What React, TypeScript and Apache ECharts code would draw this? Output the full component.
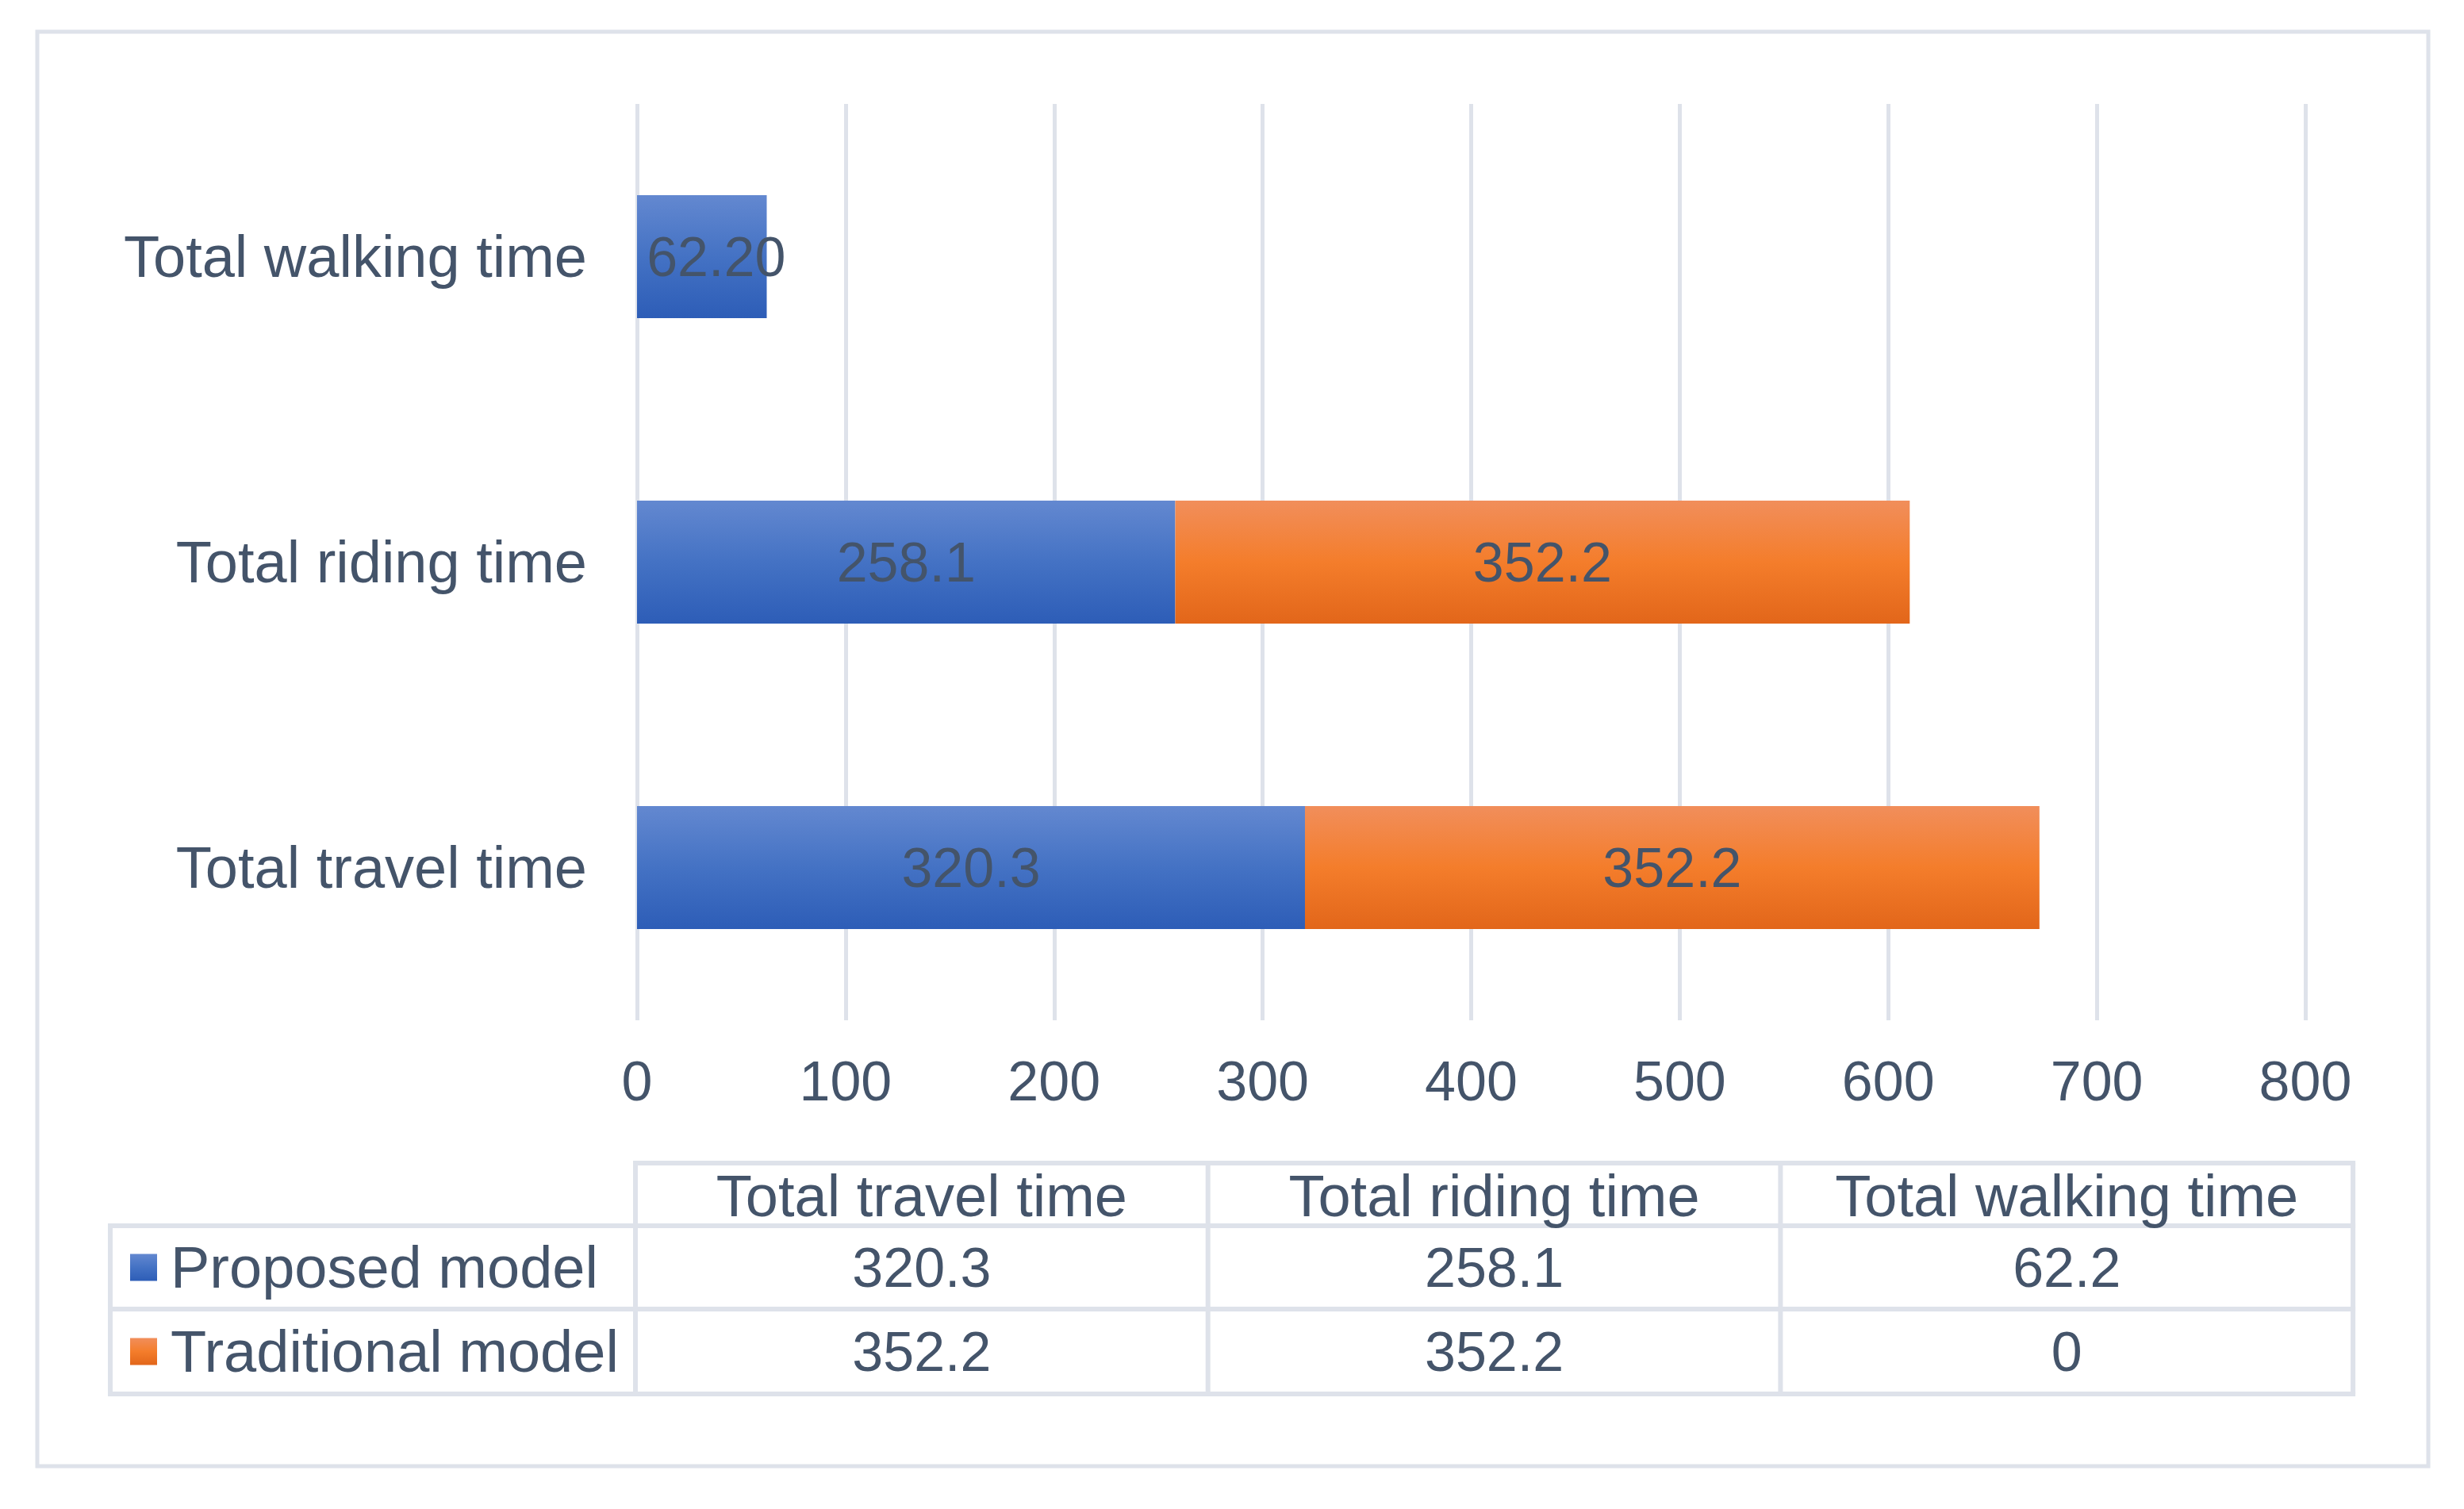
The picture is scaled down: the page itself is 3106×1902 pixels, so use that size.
import React, { useEffect, useRef } from "react";
import * as echarts from "echarts";

const categories = ["Total travel time", "Total riding time", "Total walking time"];
const seriesNames = ["Proposed model", "Traditional model"];
const proposedValues = [320.3, 258.1, 62.2];
const traditionalValues = [352.2, 352.2, 0];
const proposedLabels = ["320.3", "258.1", "62.20"];
const traditionalLabels = ["352.2", "352.2", ""];
const tableProposed = ["320.3", "258.1", "62.2"];
const tableTraditional = ["352.2", "352.2", "0"];
const axisMin = 0;
const axisMax = 800;
const axisInterval = 100;

const W = 3106;
const H = 1902;
const FONT = "'Liberation Sans', Arial, sans-serif";
const TEXT = "#44546A";
const LINE = "#DEE2EA";
const NUM_SIZE = 70;
const WORD_SIZE = 74;

const blueGrad = () =>
  new echarts.graphic.LinearGradient(0, 0, 0, 1, [
    { offset: 0, color: "#6388D0" },
    { offset: 0.5, color: "#4472C4" },
    { offset: 1, color: "#2D5DB7" },
  ]);
const orangeGrad = () =>
  new echarts.graphic.LinearGradient(0, 0, 0, 1, [
    { offset: 0, color: "#F18E5B" },
    { offset: 0.5, color: "#F47D2B" },
    { offset: 1, color: "#E2661A" },
  ]);

export default function App() {
  const ref = useRef<HTMLDivElement>(null);
  useEffect(() => {
    if (!ref.current) return;
    const chart = echarts.init(ref.current, undefined, { renderer: "svg", width: W, height: H });

    // table geometry
    const tLeft = 139;
    const c0 = 801;
    const colW = 721.7;
    const tRight = c0 + colW * 3;
    const hTop = 1466;
    const r1Top = 1545;
    const r2Top = 1650;
    const tBottom = 1757;
    const lineStyle = { stroke: LINE, lineWidth: 6 };
    const graphics: any[] = [];
    graphics.push({
      type: "rect",
      shape: { x: 47, y: 40, width: 3014, height: 1808 },
      style: { fill: "none", stroke: LINE, lineWidth: 5 },
      silent: true,
    });
    const hl = (x1: number, x2: number, y: number) =>
      graphics.push({ type: "line", shape: { x1, y1: y, x2, y2: y }, style: lineStyle, silent: true });
    const vl = (x: number, y1: number, y2: number) =>
      graphics.push({ type: "line", shape: { x1: x, y1, x2: x, y2 }, style: lineStyle, silent: true });
    hl(c0 - 3, tRight + 3, hTop);
    hl(tLeft - 3, tRight + 3, r1Top);
    hl(tLeft - 3, tRight + 3, r2Top);
    hl(tLeft - 3, tRight + 3, tBottom);
    vl(tLeft, r1Top, tBottom);
    for (let i = 0; i <= 3; i++) vl(c0 + colW * i, hTop, tBottom);

    const txt = (x: number, y: number, s: string, align: string, size: number) =>
      graphics.push({
        type: "text",
        x,
        y,
        style: {
          text: s,
          fill: TEXT,
          fontSize: size,
          fontFamily: FONT,
          align,
          verticalAlign: "middle",
        },
        silent: true,
      });
    const hMid = (hTop + r1Top) / 2 + 2;
    const r1Mid = (r1Top + r2Top) / 2;
    const r2Mid = (r2Top + tBottom) / 2;
    categories.forEach((c, i) => {
      const cx = c0 + colW * (i + 0.5);
      txt(cx, hMid, c, "center", WORD_SIZE);
      txt(cx, r1Mid, tableProposed[i], "center", NUM_SIZE);
      txt(cx, r2Mid, tableTraditional[i], "center", NUM_SIZE);
    });
    const keys = [blueGrad(), orangeGrad()];
    [r1Mid, r2Mid].forEach((ym, i) => {
      graphics.push({
        type: "rect",
        shape: { x: 164, y: ym - 17, width: 34, height: 34 },
        style: { fill: keys[i] },
        silent: true,
      });
      txt(215, ym, seriesNames[i], "left", WORD_SIZE);
    });

    chart.setOption({
      animation: false,
      backgroundColor: "#ffffff",
      textStyle: { fontFamily: FONT },
      grid: { left: 803, right: W - 2906, top: 131, bottom: H - 1286, containLabel: false },
      xAxis: {
        type: "value",
        min: axisMin,
        max: axisMax,
        interval: axisInterval,
        axisLine: { show: false },
        axisTick: { show: false },
        axisLabel: { color: TEXT, fontSize: NUM_SIZE, fontFamily: FONT, margin: 42 },
        splitLine: { show: true, lineStyle: { color: LINE, width: 5 } },
      },
      yAxis: {
        type: "category",
        data: categories,
        axisLine: { show: false },
        axisTick: { show: false },
        axisLabel: { color: TEXT, fontSize: WORD_SIZE, fontFamily: FONT, margin: 63 },
        splitLine: { show: false },
      },
      series: [
        {
          name: seriesNames[0],
          type: "bar",
          stack: "total",
          barWidth: 155,
          itemStyle: { color: blueGrad() },
          data: proposedValues.map((v, i) => ({
            value: v,
            label: {
              formatter: proposedLabels[i],
              offset: proposedLabels[i].length > 4 && v < 100 ? [18, 0] : [0, 0],
            },
          })),
          label: {
            show: true,
            position: "inside",
            color: TEXT,
            fontSize: NUM_SIZE,
            fontFamily: FONT,
          },
        },
        {
          name: seriesNames[1],
          type: "bar",
          stack: "total",
          barWidth: 155,
          itemStyle: { color: orangeGrad() },
          data: traditionalValues.map((v, i) => ({
            value: v,
            label: { formatter: traditionalLabels[i] },
          })),
          label: {
            show: true,
            position: "inside",
            color: TEXT,
            fontSize: NUM_SIZE,
            fontFamily: FONT,
          },
        },
      ],
      graphic: graphics,
    });
    return () => chart.dispose();
  }, []);
  return (
    <div
      ref={ref}
      style={{ position: "fixed", left: 0, top: 0, width: W, height: H, background: "#fff" }}
    />
  );
}
